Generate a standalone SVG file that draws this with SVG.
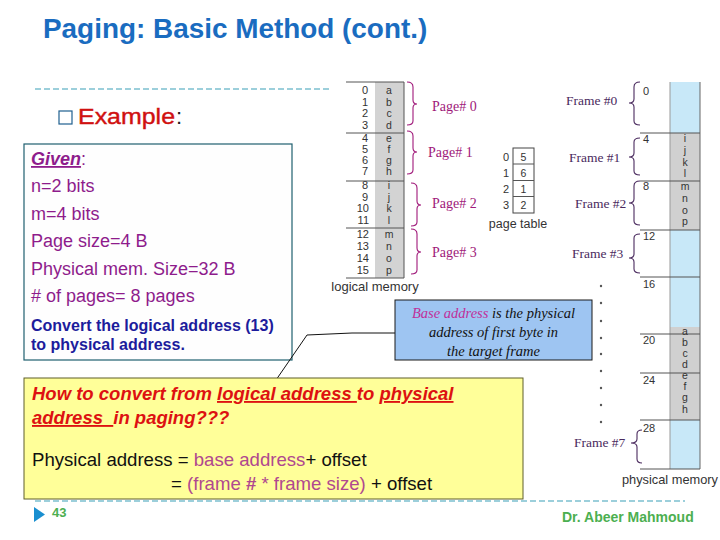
<svg xmlns="http://www.w3.org/2000/svg" width="720" height="540" viewBox="0 0 720 540">
<style>
.sans{font-family:"Liberation Sans",Arial,sans-serif}
.serif{font-family:"Liberation Serif","Times New Roman",serif}
.num{font-family:"Liberation Sans",Arial,sans-serif;font-size:11px;fill:#333}
.let{font-family:"Liberation Sans",Arial,sans-serif;font-size:10.5px;fill:#333;text-anchor:middle}
.pg{font-family:"Liberation Serif","Times New Roman",serif;font-size:14px;fill:#a0197a}
.fr{font-family:"Liberation Serif","Times New Roman",serif;font-size:13.5px;fill:#4a2a5e}
.pgb{fill:none;stroke:#a0197a;stroke-width:1.1}
.frb{fill:none;stroke:#4a2a5e;stroke-width:1.1}
.grid{stroke:#555;stroke-width:1}
.purp{font-family:"Liberation Sans",Arial,sans-serif;font-size:18px;fill:#8e1c8c}
.dash{stroke:#3aa0b8;stroke-width:1.2;stroke-dasharray:6 3}
.dot{fill:#555}
</style>

<rect width="720" height="540" fill="#ffffff"/>

<!-- title -->
<text id="title" x="43" y="38" class="sans" font-size="27.9" font-weight="bold" fill="#1a6cc0">Paging: Basic Method (cont.)</text>
<line x1="35" y1="89" x2="330" y2="89" class="dash"/>
<line x1="35" y1="501" x2="685" y2="501" class="dash"/>

<!-- example heading -->
<g id="example">
<rect x="59" y="111" width="13" height="13" fill="none" stroke="#1f5f8f" stroke-width="1.2"/>
<text x="78" y="124" class="sans" font-size="22" fill="#d01010" stroke="#d01010" stroke-width="0.4" textLength="97" lengthAdjust="spacingAndGlyphs">Example</text>
<text x="176" y="124" class="sans" font-size="22" fill="#222">:</text>
</g>

<!-- Given box -->
<g id="given">
<rect x="24" y="144" width="268" height="216" fill="#fefefe" stroke="#1f5f6f" stroke-width="1.2"/>
<text x="31" y="165" class="purp"><tspan font-weight="bold" font-style="italic" text-decoration="underline">Given</tspan>:</text>
<text x="31" y="192" class="purp">n=2 bits</text>
<text x="31" y="220" class="purp">m=4 bits</text>
<text x="31" y="247" class="purp">Page size=4 B</text>
<text x="31" y="275" class="purp">Physical mem. Size=32 B</text>
<text x="31" y="302" class="purp"># of pages= 8 pages</text>
<text x="31" y="331" class="sans" font-size="16" font-weight="bold" fill="#1c1c9c">Convert the logical address (13)</text>
<text x="31" y="350" class="sans" font-size="16" font-weight="bold" fill="#1c1c9c">to physical address.</text>
</g>

<!-- logical memory -->
<g id="logical-memory">
<rect x="375" y="82" width="29" height="196" fill="#d3d3d3"/>
<line x1="404" y1="82" x2="404" y2="278" class="grid"/>
<line x1="346" y1="82" x2="404" y2="82" class="grid"/>
<line x1="346" y1="133" x2="404" y2="133" class="grid"/>
<line x1="346" y1="181" x2="404" y2="181" class="grid"/>
<line x1="346" y1="228" x2="404" y2="228" class="grid"/>
<line x1="346" y1="278" x2="404" y2="278" class="grid"/>
<g class="num" text-anchor="end">
<text x="368" y="94">0</text><text x="368" y="106">1</text><text x="368" y="117">2</text><text x="368" y="129">3</text>
<text x="368" y="142">4</text><text x="368" y="153">5</text><text x="368" y="164">6</text><text x="368" y="175">7</text>
<text x="368" y="189">8</text><text x="368" y="201">9</text><text x="369" y="212">10</text><text x="369" y="224">11</text>
<text x="369" y="238">12</text><text x="369" y="250">13</text><text x="369" y="262">14</text><text x="369" y="274">15</text>
</g>
<g class="let">
<text x="389" y="94">a</text><text x="389" y="106">b</text><text x="389" y="117">c</text><text x="389" y="129">d</text>
<text x="389" y="142">e</text><text x="389" y="153">f</text><text x="389" y="164">g</text><text x="389" y="175">h</text>
<text x="389" y="189">i</text><text x="389" y="201">j</text><text x="389" y="212">k</text><text x="389" y="224">l</text>
<text x="389" y="238">m</text><text x="389" y="250">n</text><text x="389" y="262">o</text><text x="389" y="274">p</text>
</g>
<text x="375" y="291" class="sans" font-size="13" fill="#333" text-anchor="middle">logical memory</text>
</g>

<!-- page labels -->
<g id="page0"><path class="pgb" d="M407,82 Q413,82 413,87 L413,100 Q413,104 417,104 Q413,104 413,108 L413,121 Q413,125 407,125"/><text x="432" y="111" class="pg">Page# 0</text></g>
<g id="page1"><path class="pgb" d="M407,131 Q413,131 413,136 L413,148 Q413,152 417,152 Q413,152 413,156 L413,170 Q413,174 407,174"/><text x="428" y="157" class="pg">Page# 1</text></g>
<g id="page2"><path class="pgb" d="M411,183 Q417,183 417,188 L417,201 Q417,205 421,205 Q417,205 417,209 L417,222 Q417,226 411,226"/><text x="432" y="208" class="pg">Page# 2</text></g>
<g id="page3"><path class="pgb" d="M411,229 Q417,229 417,234 L417,248 Q417,252 421,252 Q417,252 417,256 L417,270 Q417,274 411,274"/><text x="432" y="257" class="pg">Page# 3</text></g>

<!-- page table -->
<g id="page-table">
<rect x="513" y="148" width="21" height="65" fill="#fff" stroke="#444" stroke-width="1"/>
<line x1="513" y1="164" x2="534" y2="164" class="grid"/>
<line x1="513" y1="180.5" x2="534" y2="180.5" class="grid"/>
<line x1="513" y1="196.5" x2="534" y2="196.5" class="grid"/>
<g class="num" text-anchor="end"><text x="509" y="161">0</text><text x="509" y="177">1</text><text x="509" y="193">2</text><text x="509" y="209">3</text></g>
<g class="let"><text x="523.5" y="161">5</text><text x="523.5" y="177">6</text><text x="523.5" y="193">1</text><text x="523.5" y="209">2</text></g>
<text x="518" y="228" class="sans" font-size="12.5" fill="#333" text-anchor="middle">page table</text>
</g>

<!-- physical memory -->
<g id="physical-memory">
<rect x="670" y="82" width="30" height="387" fill="#c8e8f8"/>
<rect x="670" y="133" width="30" height="97" fill="#d0d0d0"/>
<rect x="670" y="327" width="30" height="93" fill="#d0d0d0"/>
<line x1="670" y1="82" x2="670" y2="469" stroke="#999" stroke-width="1"/>
<line x1="700" y1="82" x2="700" y2="469" stroke="#666" stroke-width="1"/>
<g class="grid">
<line x1="640" y1="133" x2="700" y2="133"/>
<line x1="640" y1="181" x2="700" y2="181"/>
<line x1="640" y1="230" x2="700" y2="230"/>
<line x1="640" y1="277" x2="700" y2="277"/>
<line x1="640" y1="334" x2="700" y2="334"/>
<line x1="640" y1="373" x2="700" y2="373"/>
<line x1="640" y1="420" x2="700" y2="420"/>
<line x1="640" y1="469" x2="700" y2="469"/>
</g>
<g class="num">
<text x="643" y="95">0</text><text x="643" y="143">4</text><text x="643" y="190">8</text><text x="643" y="240">12</text>
<text x="643" y="288">16</text><text x="643" y="344">20</text><text x="643" y="384">24</text><text x="643" y="432">28</text>
</g>
<g class="let">
<text x="685" y="142">i</text><text x="685" y="154">j</text><text x="685" y="166">k</text><text x="685" y="177">l</text>
<text x="685" y="190">m</text><text x="685" y="202">n</text><text x="685" y="214">o</text><text x="685" y="225">p</text>
</g>
<g class="let" font-size="9.5">
<text x="685" y="335">a</text><text x="685" y="346">b</text><text x="685" y="357">c</text><text x="685" y="368">d</text>
<text x="685" y="379">e</text><text x="685" y="390">f</text><text x="685" y="401">g</text><text x="685" y="413">h</text>
</g>
<text x="670" y="484" class="sans" font-size="12.8" fill="#333" text-anchor="middle">physical memory</text>
</g>

<!-- frame labels -->
<g id="frame0"><path class="frb" d="M640,82 Q634,82 634,87 L634,99 Q634,103 629,103 Q634,103 634,107 L634,121 Q634,125 640,125"/><text x="566" y="105" class="fr">Frame #0</text></g>
<g id="frame1"><path class="frb" d="M640,138 Q634,138 634,142 L634,153 Q634,157 629,157 Q634,157 634,161 L634,171 Q634,175 640,175"/><text x="569" y="162" class="fr">Frame #1</text></g>
<g id="frame2"><path class="frb" d="M640,181 Q634,181 634,186 L634,199 Q634,203 629,203 Q634,203 634,207 L634,221 Q634,225 640,225"/><text x="575" y="208" class="fr">Frame #2</text></g>
<g id="frame3"><path class="frb" d="M640,234 Q634,234 634,238 L634,254 Q634,258 629,258 Q634,258 634,262 L634,269 Q634,273 640,273"/><text x="572" y="258" class="fr">Frame #3</text></g>
<g id="frame7"><path class="frb" d="M642,430 Q637,430 637,434 L637,439 Q637,443 631,443 Q637,443 637,447 L637,459 Q637,463 642,463"/><text x="574" y="447" class="fr">Frame #7</text></g>

<!-- dots -->
<g id="dots">
<circle class="dot" cx="601" cy="286" r="1.2"/><circle class="dot" cx="601" cy="303" r="1.2"/><circle class="dot" cx="601" cy="321" r="1.2"/>
<circle class="dot" cx="601" cy="338" r="1.2"/><circle class="dot" cx="601" cy="354" r="1.2"/><circle class="dot" cx="601" cy="371" r="1.2"/>
<circle class="dot" cx="601" cy="388" r="1.2"/><circle class="dot" cx="601" cy="405" r="1.2"/><circle class="dot" cx="601" cy="422" r="1.2"/>
</g>

<!-- connectors -->
<g id="connectors">
<polyline points="395,333 352,333 307,335 276,380" fill="none" stroke="#111" stroke-width="1"/>
</g>

<!-- base address callout -->
<g id="base-address">
<rect x="395" y="300" width="197" height="60" fill="#9ec5f2" stroke="#1a1a1a" stroke-width="1"/>
<g class="serif" font-style="italic" font-size="14.5" fill="#111" text-anchor="middle">
<text x="493.5" y="318"><tspan fill="#c0309a">Base address</tspan> is the physical</text>
<text x="493.5" y="337">address of first byte  in</text>
<text x="493.5" y="356">the target frame</text>
</g>
</g>

<!-- yellow box -->
<g id="how-to">
<rect x="24" y="378" width="499" height="121" fill="#ffff99" stroke="#5f5f2a" stroke-width="1"/>
<text x="32" y="400" class="sans" font-size="18.5" font-weight="bold" font-style="italic" fill="#dd1111" xml:space="preserve">How to convert from <tspan text-decoration="underline">logical address </tspan>to <tspan text-decoration="underline">physical</tspan></text>
<text x="32" y="424" class="sans" font-size="18.5" font-weight="bold" font-style="italic" fill="#dd1111" xml:space="preserve"><tspan text-decoration="underline">address  </tspan>in paging???</text>
<text x="32" y="466" class="sans" font-size="18.6" fill="#111">Physical address = <tspan fill="#b0488f">base address</tspan>+ offset</text>
<text x="171" y="490" class="sans" font-size="18.6" fill="#111">= <tspan fill="#b0488f">(frame <tspan font-weight="bold">#</tspan> * frame size)</tspan> + offset</text>
</g>

<!-- footer -->
<g id="footer">
<polygon points="34,507 45,514.5 34,522" fill="#1a8fd0"/>
<text x="52" y="517" class="sans" font-size="13" font-weight="bold" fill="#4caf50">43</text>
<text x="562" y="522" class="sans" font-size="14" font-weight="bold" fill="#4caf50">Dr. Abeer Mahmoud</text>
</g>
</svg>
